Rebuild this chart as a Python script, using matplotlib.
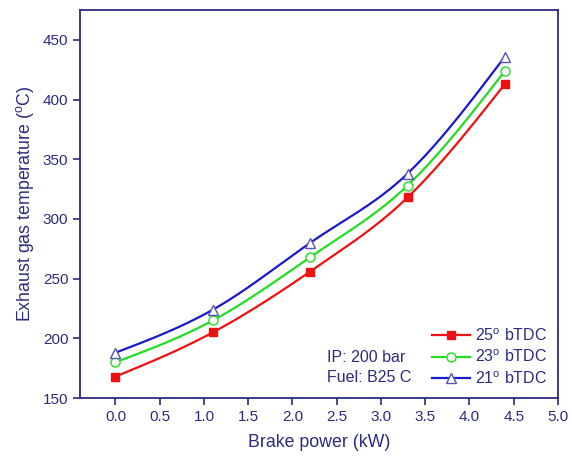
import numpy as np
import matplotlib.pyplot as plt

plt.rcParams['font.family'] = ['Liberation Sans', 'DejaVu Sans']

power = [0.0, 1.1, 2.2, 3.3, 4.4]
egt_25 = [168, 205, 256, 318, 413]
egt_23 = [180, 215, 268, 328, 424]
egt_21 = [188, 224, 280, 338, 436]
labels = ['25$^{\\mathregular{o}}$ bTDC', '23$^{\\mathregular{o}}$ bTDC', '21$^{\\mathregular{o}}$ bTDC']

navy = '#2b2b7f'


def smooth(x, y, n=40):
    # cubic Hermite line through the measured points (drawing only)
    x = np.asarray(x, float)
    y = np.asarray(y, float)
    d = np.diff(y) / np.diff(x)
    m = np.empty_like(y)
    m[1:-1] = (d[:-1] + d[1:]) / 2
    m[0] = 1.5 * d[0] - 0.5 * m[1]
    m[-1] = 1.5 * d[-1] - 0.5 * m[-2]
    xs_all, ys_all = [], []
    for i in range(len(x) - 1):
        h = x[i + 1] - x[i]
        t = np.linspace(0, 1, n)
        h00 = 2 * t ** 3 - 3 * t ** 2 + 1
        h10 = t ** 3 - 2 * t ** 2 + t
        h01 = -2 * t ** 3 + 3 * t ** 2
        h11 = t ** 3 - t ** 2
        xs_all.append(x[i] + t * h)
        ys_all.append(h00 * y[i] + h10 * h * m[i] + h01 * y[i + 1] + h11 * h * m[i + 1])
    return np.concatenate(xs_all), np.concatenate(ys_all)


fig = plt.figure(figsize=(5.72, 4.57), dpi=100)
ax = fig.add_axes([0.14, 0.129, 0.8355, 0.849])

series = [
    (egt_25, '#ee1111', 's', '#ee1111', '#ee1111', 5.5),
    (egt_23, '#22dd22', 'o', 'white', '#22dd22', 6.5),
    (egt_21, '#1a1acc', '^', 'white', '#5555bb', 7),
]
for (vals, col, mk, fc, ec, ms), lab in zip(series, labels):
    xs, ys = smooth(power, vals)
    ax.plot(xs, ys, color=col, lw=1.6, zorder=2)
    ax.plot(power, vals, ls='none', marker=mk, ms=ms, mfc=fc, mec=ec, mew=1.0, zorder=3)
    ax.plot([], [], color=col, lw=1.6, marker=mk, ms=ms, mfc=fc, mec=ec, mew=1.0, label=lab)

ax.set_xlim(-0.4, 5.0)
ax.set_ylim(150, 475)
ax.set_xticks(np.arange(0, 5.01, 0.5))
ax.set_yticks(np.arange(150, 451, 50))
ax.tick_params(direction='out', colors=navy, labelsize=11, length=5, width=1.2,
               top=False, right=False)
for s in ax.spines.values():
    s.set_color(navy)
    s.set_linewidth(1.3)

ax.set_xlabel('Brake power (kW)', fontsize=12.8, color=navy, labelpad=7)
ax.set_ylabel('Exhaust gas temperature ($^{\\mathregular{o}}$C)', fontsize=12.8, color=navy, labelpad=5)

ax.text(2.39, 180.2, 'IP: 200 bar', fontsize=11.5, color=navy, va='baseline')
ax.text(2.39, 163.4, 'Fuel: B25 C', fontsize=11.5, color=navy, va='baseline')

leg = ax.legend(loc='lower right', frameon=False, fontsize=11.5, handlelength=2.4,
                labelspacing=0.3, borderaxespad=0.3, handletextpad=0.3)
for t in leg.get_texts():
    t.set_color(navy)

fig.savefig('out.png', dpi=100)
